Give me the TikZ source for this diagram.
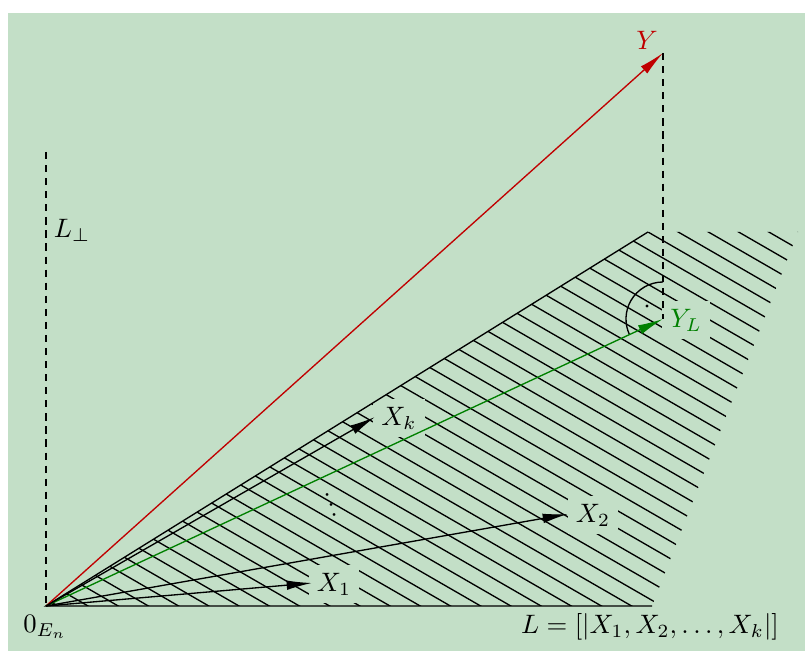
\documentclass[tikz,border=0pt]{standalone}
\usetikzlibrary{arrows.meta,calc}
\definecolor{bg}{RGB}{195,223,199}
\definecolor{vred}{RGB}{192,0,0}
\definecolor{vgreen}{RGB}{0,128,0}
\begin{document}
\begin{tikzpicture}[x=0.375pt,y=-0.375pt,
  vec/.style={line width=0.5pt,-{Latex[length=9.5pt,width=3.6pt]}},
  lbl/.style={fill=bg,inner sep=3pt},
  hatch/.style={line width=0.5pt},
  dline/.style={line width=0.5pt,dash pattern=on 2.7pt off 2.2pt},
  thin line/.style={line width=0.5pt}]
\useasboundingbox (0,0) rectangle (805,651);
\fill[bg] (8,13) rectangle (805,651);
\coordinate (O) at (46,606);
\coordinate (A) at (652,606);
\coordinate (B) at (648,232);
\coordinate (C) at (798,232);
\coordinate (Y) at (663,53);
\coordinate (YL) at (663,319);
\coordinate (X1) at (312,583);
\coordinate (X2) at (568,514);
\coordinate (Xk) at (375,417);
\coordinate (Lt) at (46,152);
% hatching of the subspace L
\begin{scope}
  \clip (O) -- (A) -- (C) -- (B) -- cycle;
  \foreach \k in {-45,...,6}{
    \draw[hatch] ({648+30.2*\k-700},{232-404}) -- ({648+30.2*\k+700},{232+404});
  }
\end{scope}
% labels (filled, they cut the hatching)
\node[lbl] (lX1) at (334,584) {$X_1$};
\node[lbl] (lX2) at (593,515) {$X_2$};
\node[lbl] (lXk) at (399,418) {$X_k$};
\node[lbl,text=vgreen] (lYL) at (686,320) {$Y_L$};
\node[text=vred] (lY) at (647,40) {$Y$};
\node (lO) at (45,627) {$0_{E_n}$};
\node (lLp) at (72,230) {$L_\perp$};
\node (lL) at (650,627) {$L=[|X_1,X_2,\dots,X_k|]$};
\node[rotate=19,anchor=base,inner sep=0pt] (dots) at (335,516) {$\vdots$};
% edges of L
\draw[thin line] (B) -- (O) -- (A);
\draw[dline] (Lt) -- (O);
\draw[dline] (Y) -- (YL);
% right angle mark
\draw[thin line] ($(YL)+(0,-37)$) arc[start angle=-90,end angle=-205,radius=37];
\fill (647,306) circle (0.6pt);
% vectors
\draw[vec,vred] (O) -- (Y);
\draw[vec,vgreen] (O) -- (YL);
\draw[vec] (O) -- (X1);
\draw[vec] (O) -- (X2);
\draw[vec] (O) -- (Xk);
\end{tikzpicture}
\end{document}
